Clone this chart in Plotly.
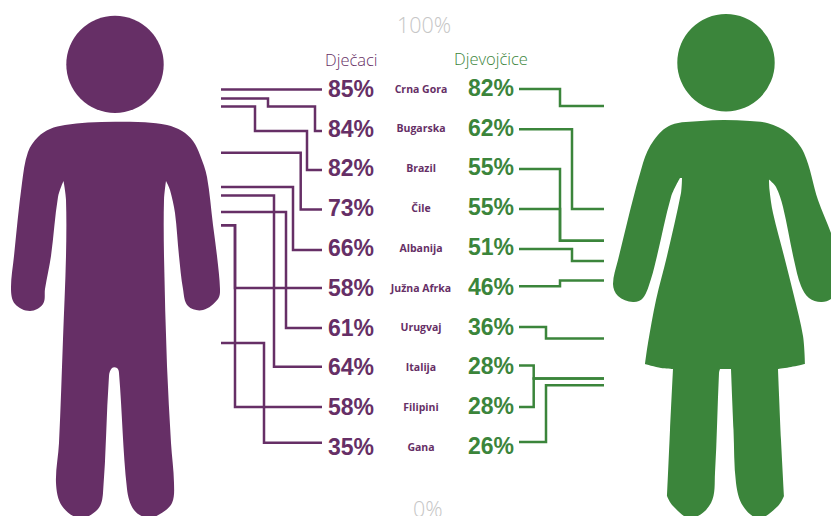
import math
import plotly.graph_objects as go

# ---- data ----
countries = ["Crna Gora", "Bugarska", "Brazil", "Čile", "Albanija", "Južna Afrka", "Urugvaj", "Italija", "Filipini", "Gana"]
boys = [85, 84, 82, 73, 66, 58, 61, 64, 58, 35]
girls = [82, 62, 55, 55, 51, 46, 36, 28, 28, 26]
# where each connector meets the silhouette's 0-100 scale
boys_level = [85.3, 83.5, 81.9, 72.7, 65.9, 58.3, 60.9, 64.2, 58.3, 34.9]
girls_level = [82.0, 61.5, 55.2, 55.2, 51.2, 47.3, 35.8, 27.8, 27.8, 26.5]
# row position at which each connector reaches its number
boys_stub = [0.01, 1.055, 2.035, 3.03, 4.045, 5.0, 6.005, 6.98, 7.99, 8.89]
girls_stub = [0.0, 1.01, 2.01, 3.015, 4.02, 4.957, 5.98, 6.95, 7.99, 8.87]

# ---- layout constants ----
W, H = 831, 516
PURPLE, GREEN, GREY = "#662F66", "#3B853B", "#C6C6C6"
SCALE_RANGE = [0.49, 103.07]
BOY_X0, BOY_X1, GIRL_X0, GIRL_X1 = 221, 322, 519, 604
BOY_BEND = [None, 315, 307, 300.7, 293, 235, 286, 274, 235, 264]
GIRL_BEND = [560, 572, 560, 560, 572, 560, 546, 533.7, 533.7, 546]


def row_px(i):
    return 89 + 39.8 * i


def scale_of_px(p):
    return SCALE_RANGE[1] - p / H * (SCALE_RANGE[1] - SCALE_RANGE[0])


def row_on_scale(i):
    return scale_of_px(row_px(i))


fig = go.Figure()

# boys' connectors
for i in range(len(boys)):
    lvl, stub, bend = boys_level[i], row_on_scale(boys_stub[i]), BOY_BEND[i]
    if i == 0:
        xs, ys = [BOY_X0, BOY_X1], [stub, stub]
    elif i == 1:  # double elbow
        xs = [BOY_X0, 268, 268, bend, bend, BOY_X1]
        ys = [lvl, lvl, boys_level[2], boys_level[2], stub, stub]
    elif i == 2:  # double elbow
        xs = [BOY_X0, 255, 255, bend, bend, BOY_X1]
        ys = [lvl, lvl, row_on_scale(boys_stub[1]), row_on_scale(boys_stub[1]), stub, stub]
    else:
        xs = [BOY_X0, bend, bend, BOY_X1]
        ys = [lvl, lvl, stub, stub]
    fig.add_trace(go.Scatter(x=xs, y=ys, mode="lines", line=dict(color=PURPLE, width=2.5), hoverinfo="skip"))

# girls' connectors
for i in range(len(girls)):
    lvl, stub, bend = girls_level[i], row_on_scale(girls_stub[i]), GIRL_BEND[i]
    xs = [GIRL_X0, bend, bend, GIRL_X1]
    ys = [stub, stub, lvl, lvl]
    fig.add_trace(go.Scatter(x=xs, y=ys, mode="lines", line=dict(color=GREEN, width=2.5), hoverinfo="skip"))

# number and country columns
boy_num_y = [row_on_scale(i + 2 / 39.8) for i in range(len(countries))]
girl_num_y = [row_on_scale(i + 1 / 39.8) for i in range(len(countries))]
name_y = [row_on_scale(i + 1 / 39.8) for i in range(len(countries))]
fig.add_trace(go.Scatter(x=[351] * 10, y=boy_num_y, mode="text", text=[f"{v}%" for v in boys],
                         textfont=dict(family="Liberation Sans", size=23, color=PURPLE, weight="bold"), hoverinfo="skip"))
fig.add_trace(go.Scatter(x=[491] * 10, y=girl_num_y, mode="text", text=[f"{v}%" for v in girls],
                         textfont=dict(family="Liberation Sans", size=23, color=GREEN, weight="bold"), hoverinfo="skip"))
fig.add_trace(go.Scatter(x=[421] * 10, y=name_y, mode="text", text=countries,
                         textfont=dict(family="Open Sans", size=10.5, color=PURPLE, weight="bold"), hoverinfo="skip"))

# ---- silhouettes (decorative outlines); a third item "c" marks a sharp corner ----
man_outline = [
    (115, 121.7), (145, 122.3), (167, 125), (182, 131), (193, 141), (200, 155), (207, 177), (213, 225), (217, 256), (220, 289), (218, 299),
    (203, 310), (188, 306), (183, 289), (179, 256), (175, 213), (170, 190), (166, 181, "c"),
    (164, 200), (164, 256), (167, 366), (171, 443), (174, 483), (172, 503), (160, 514), (148, 518),
    (134, 510), (127, 489), (119, 373), (117, 368), (112, 368), (109, 376), (103, 493), (98, 509), (80, 518),
    (62, 506), (56, 483), (59, 443), (63, 339), (66, 256), (66, 200), (63.5, 181, "c"), (58, 197),
    (51, 256), (45, 289), (43, 304), (30, 311), (15, 304), (11, 289), (14, 256), (22, 183), (28, 152), (38, 137), (50, 129), (65, 125), (88, 122.5),
]
woman_outline = [
    (724, 120), (750, 121), (768, 123.3), (788, 133), (804, 153), (818, 200), (831, 233), (840, 262), (838, 290), (831, 299), (821, 302),
    (809, 298), (801, 286), (794, 260), (783, 207), (776, 187), (769, 179.5, "c"), (769.5, 190), (773, 213), (784, 256),
    (794, 296), (803, 336), (805, 364, "c"), (791, 367), (778, 369, "c"), (781, 440), (784, 496, "c"), (778, 506), (759, 518),
    (743, 506), (736, 483), (733.5, 430), (731, 369, "c"), (720, 369, "c"), (719, 373), (715, 473), (711, 503), (691, 518),
    (673, 506), (667, 496, "c"), (670, 430), (673, 369, "c"), (661, 368), (645, 364, "c"), (648, 343), (656, 300), (667, 256),
    (681, 193), (682, 178, "c"), (680, 178, "c"), (671, 197), (657, 256), (651, 279), (643, 298), (633, 302), (618, 296), (613, 284),
    (618, 260), (643, 163), (654, 140), (671, 125), (701, 121),
]


def smooth_path(pts):
    n = len(pts)
    tang = []
    for i in range(n):
        a, b, c = pts[i - 1], pts[i], pts[(i + 1) % n]
        if len(b) > 2:
            tang.append((0.0, 0.0))
        else:
            dx, dy = c[0] - a[0], c[1] - a[1]
            m = math.hypot(dx, dy) or 1
            tang.append((dx / m, dy / m))
    d = f"M {pts[0][0]} {pts[0][1]} "
    for i in range(n):
        j = (i + 1) % n
        p, q = pts[i], pts[j]
        s = math.hypot(q[0] - p[0], q[1] - p[1]) / 3
        d += (f"C {p[0] + tang[i][0] * s:.1f} {p[1] + tang[i][1] * s:.1f} "
              f"{q[0] - tang[j][0] * s:.1f} {q[1] - tang[j][1] * s:.1f} {q[0]} {q[1]} ")
    return d + "Z"


shape_common = dict(xref="x", yref="y2", layer="below", line=dict(width=0))
shapes = [
    dict(type="path", path=smooth_path(man_outline), fillcolor=PURPLE, **shape_common),
    dict(type="circle", x0=66.3, x1=163.7, y0=15.8, y1=113, fillcolor=PURPLE, **shape_common),
    dict(type="path", path=smooth_path(woman_outline), fillcolor=GREEN, **shape_common),
    dict(type="circle", x0=677.3, x1=774.7, y0=14, y1=111.4, fillcolor=GREEN, **shape_common),
]

annotations = [
    dict(text="100%", x=423.5, y=24.5, font=dict(size=21.5, color=GREY, family="Open Sans", weight=300)),
    dict(text="0%", x=427.5, y=508, font=dict(size=21.5, color=GREY, family="Open Sans", weight=300)),
    dict(text="Dječaci", x=351.5, y=59, font=dict(size=16.5, color=PURPLE, family="Open Sans", weight=300)),
    dict(text="Djevojčice", x=490.5, y=58, font=dict(size=16.5, color=GREEN, family="Open Sans", weight=300)),
]
for a in annotations:
    a.update(xref="x", yref="y2", showarrow=False, xanchor="center", yanchor="middle")

fig.update_layout(
    width=W, height=H, margin=dict(l=0, r=0, t=0, b=0),
    paper_bgcolor="white", plot_bgcolor="white", showlegend=False,
    xaxis=dict(range=[0, W], visible=False, fixedrange=True),
    yaxis=dict(range=SCALE_RANGE, visible=False, fixedrange=True),
    yaxis2=dict(range=[H, 0], visible=False, overlaying="y", fixedrange=True),
    shapes=shapes, annotations=annotations,
)
fig.write_html("out.html", config={"displayModeBar": False},
               post_script="document.body.style.margin='0';document.body.style.overflow='hidden';")
